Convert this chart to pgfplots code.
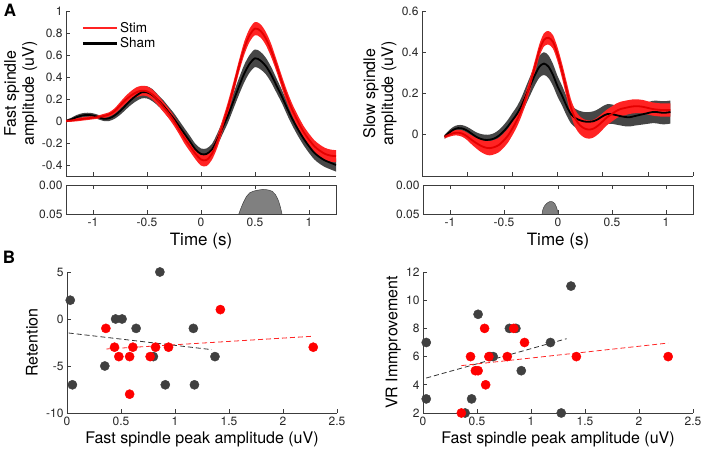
\documentclass[border=0pt]{standalone}
\usepackage{fontspec}
\setmainfont{TeX Gyre Heros}
\usepackage{pgfplots}
\pgfplotsset{compat=1.18}
\usepackage{pgfplotstable}
\usepgfplotslibrary{fillbetween}

\definecolor{stimband}{RGB}{255,35,35}
\definecolor{stimline}{RGB}{228,0,0}
\definecolor{shamband}{RGB}{70,70,70}
\definecolor{axc}{RGB}{60,60,60}
\definecolor{txc}{RGB}{38,38,38}
\definecolor{dotgray}{RGB}{64,64,64}
\definecolor{pgray}{RGB}{128,128,128}

\pgfplotstableread{
t m h
-1.25 0.00 0.01
-1.2 0.015 0.015
-1.15 0.035 0.02
-1.1 0.05 0.02
-1.05 0.055 0.02
-1.0 0.05 0.02
-0.95 0.035 0.02
-0.9 0.02 0.02
-0.85 0.025 0.025
-0.8 0.05 0.03
-0.75 0.09 0.035
-0.7 0.14 0.04
-0.65 0.19 0.045
-0.6 0.23 0.05
-0.55 0.26 0.055
-0.5 0.26 0.055
-0.45 0.235 0.055
-0.4 0.19 0.05
-0.35 0.14 0.05
-0.3 0.08 0.05
-0.25 0.02 0.05
-0.2 -0.05 0.05
-0.15 -0.12 0.05
-0.1 -0.19 0.05
-0.05 -0.26 0.05
0 -0.30 0.05
0.05 -0.30 0.05
0.1 -0.26 0.05
0.15 -0.17 0.055
0.2 -0.06 0.06
0.25 0.05 0.065
0.3 0.18 0.07
0.35 0.31 0.075
0.4 0.43 0.08
0.45 0.52 0.08
0.5 0.57 0.08
0.55 0.55 0.08
0.6 0.50 0.075
0.65 0.42 0.07
0.7 0.32 0.065
0.75 0.22 0.06
0.8 0.11 0.06
0.85 0.01 0.06
0.9 -0.08 0.06
0.95 -0.16 0.06
1.0 -0.23 0.06
1.05 -0.29 0.06
1.1 -0.33 0.06
1.15 -0.36 0.06
1.2 -0.38 0.06
1.25 -0.40 0.06
}\fastsham

\pgfplotstableread{
t m h
-1.25 0.00 0.01
-1.2 0.005 0.012
-1.15 0.012 0.015
-1.1 0.018 0.015
-1.05 0.024 0.015
-1.0 0.03 0.015
-0.95 0.036 0.015
-0.9 0.045 0.02
-0.85 0.06 0.02
-0.8 0.09 0.025
-0.75 0.14 0.03
-0.7 0.19 0.035
-0.65 0.23 0.04
-0.6 0.26 0.045
-0.55 0.275 0.045
-0.5 0.27 0.045
-0.45 0.24 0.045
-0.4 0.19 0.045
-0.35 0.13 0.045
-0.3 0.07 0.045
-0.25 0.0 0.045
-0.2 -0.08 0.045
-0.15 -0.16 0.05
-0.1 -0.23 0.05
-0.05 -0.30 0.05
0 -0.35 0.055
0.05 -0.355 0.055
0.1 -0.30 0.055
0.15 -0.19 0.055
0.2 -0.04 0.055
0.25 0.12 0.055
0.3 0.30 0.055
0.35 0.49 0.055
0.4 0.66 0.06
0.45 0.78 0.06
0.5 0.84 0.06
0.55 0.82 0.06
0.6 0.75 0.06
0.65 0.64 0.06
0.7 0.50 0.055
0.75 0.35 0.055
0.8 0.21 0.055
0.85 0.09 0.055
0.9 -0.01 0.055
0.95 -0.10 0.055
1.0 -0.17 0.055
1.05 -0.23 0.055
1.1 -0.27 0.055
1.15 -0.30 0.055
1.2 -0.315 0.055
1.25 -0.32 0.055
}\faststim

\pgfplotstableread{
t m h
-1.25 -0.01 0.01
-1.2 0.01 0.012
-1.15 0.025 0.014
-1.1 0.032 0.015
-1.05 0.03 0.016
-1.0 0.02 0.018
-0.95 0.005 0.02
-0.9 -0.01 0.022
-0.85 -0.02 0.024
-0.8 -0.025 0.025
-0.75 -0.024 0.025
-0.7 -0.018 0.026
-0.65 -0.005 0.028
-0.6 0.015 0.03
-0.55 0.04 0.032
-0.5 0.07 0.035
-0.45 0.10 0.037
-0.4 0.14 0.04
-0.35 0.19 0.043
-0.3 0.24 0.046
-0.25 0.29 0.05
-0.2 0.33 0.053
-0.15 0.345 0.055
-0.1 0.33 0.055
-0.05 0.29 0.053
0.0 0.235 0.05
0.05 0.19 0.048
0.1 0.14 0.046
0.15 0.10 0.045
0.2 0.08 0.045
0.25 0.07 0.045
0.3 0.064 0.046
0.35 0.063 0.047
0.4 0.066 0.048
0.45 0.076 0.048
0.5 0.09 0.048
0.55 0.10 0.048
0.6 0.10 0.047
0.65 0.095 0.046
0.7 0.09 0.045
0.75 0.086 0.045
0.8 0.085 0.045
0.85 0.09 0.046
0.9 0.095 0.048
0.95 0.10 0.05
1.0 0.105 0.052
1.05 0.11 0.054
1.1 0.11 0.055
1.15 0.107 0.056
1.2 0.107 0.056
1.25 0.11 0.056
}\slowsham

\pgfplotstableread{
t m h
-1.25 -0.01 0.008
-1.2 0.0 0.01
-1.15 0.008 0.012
-1.1 0.01 0.014
-1.05 0.005 0.016
-1.0 -0.008 0.018
-0.95 -0.025 0.022
-0.9 -0.04 0.026
-0.85 -0.053 0.03
-0.8 -0.062 0.033
-0.75 -0.065 0.035
-0.7 -0.06 0.035
-0.65 -0.05 0.035
-0.6 -0.03 0.035
-0.55 -0.005 0.034
-0.5 0.03 0.033
-0.45 0.07 0.032
-0.4 0.12 0.031
-0.35 0.18 0.03
-0.3 0.25 0.03
-0.25 0.33 0.03
-0.2 0.41 0.03
-0.15 0.46 0.032
-0.1 0.47 0.033
-0.05 0.45 0.033
0.0 0.39 0.034
0.05 0.31 0.036
0.1 0.22 0.038
0.15 0.13 0.04
0.2 0.075 0.042
0.25 0.045 0.043
0.3 0.03 0.044
0.35 0.025 0.044
0.4 0.03 0.043
0.45 0.045 0.042
0.5 0.065 0.04
0.55 0.085 0.038
0.6 0.10 0.037
0.65 0.115 0.036
0.7 0.125 0.035
0.75 0.13 0.035
0.8 0.135 0.034
0.85 0.138 0.034
0.9 0.138 0.033
0.95 0.135 0.033
1.0 0.13 0.032
1.05 0.125 0.032
1.1 0.122 0.032
1.15 0.12 0.032
1.2 0.12 0.032
1.25 0.12 0.032
}\slowstim

\pgfplotstableread{
t p
0.35 0.05
0.37 0.04
0.39 0.031
0.42 0.02
0.45 0.0137
0.48 0.011
0.51 0.0095
0.54 0.0085
0.57 0.0077
0.60 0.008
0.63 0.0089
0.66 0.011
0.69 0.0167
0.71 0.024
0.72 0.0286
0.735 0.038
0.75 0.05
}\pfast

\pgfplotstableread{
t p
-0.148 0.05
-0.14 0.042
-0.125 0.036
-0.1 0.031
-0.075 0.0285
-0.05 0.029
-0.03 0.032
-0.015 0.038
-0.005 0.044
0.005 0.05
}\pslow

\pgfplotsset{
  myax/.style={
    scale only axis,
    /pgf/number format/assume math mode=true,
    tick align=inside,
    major tick length=4bp,
    axis line style={axc, line width=0.6bp},
    every tick/.style={axc, line width=0.6bp},
    ticklabel style={font=\fontsize{12bp}{14bp}\selectfont, text=txc},
    label style={font=\fontsize{16bp}{18bp}\selectfont, text=black},
    scaled ticks=false,
    anchor=south west,
  },
  boxoff/.style={axis lines*=left},
}

\begin{document}
\begin{tikzpicture}[x=1bp,y=1bp]

% ---------------- Top-left: fast spindle
\begin{axis}[myax, boxoff, at={(66bp,277bp)}, width=270bp, height=165bp,
  xmin=-1.25, xmax=1.25, ymin=-0.5, ymax=1,
  xtick={-1,-0.5,0,0.5,1}, xticklabels={},
  ytick={-0.4,-0.2,0,0.2,0.4,0.6,0.8,1},
  yticklabels={-0.4,-0.2,0,0.2,0.4,0.6,0.8,1},
  ylabel={Fast spindle\\amplitude (uV)},
  ylabel style={align=center, at={(axis description cs:-0.167,0.5)}, anchor=center},
  legend style={at={(axis description cs:0.046,0.958)}, anchor=north west, draw=none, fill=none,
    font=\fontsize{13.5bp}{16bp}\selectfont, row sep=0bp},
  legend cell align=left,
  legend image code/.code={\draw[#1] (0bp,0bp) -- (34bp,0bp);},
]
\addlegendimage{stimband, line width=2.6bp}
\addlegendentry{Stim}
\addlegendimage{black, line width=2.6bp}
\addlegendentry{Sham}
\addplot[draw=none, name path=fshu, smooth, forget plot] table[x=t, y expr=\thisrow{m}+\thisrow{h}] {\fastsham};
\addplot[draw=none, name path=fshl, smooth, forget plot] table[x=t, y expr=\thisrow{m}-\thisrow{h}] {\fastsham};
\addplot[shamband, forget plot] fill between[of=fshu and fshl];
\addplot[black, line width=1.8bp, smooth, forget plot] table[x=t, y=m] {\fastsham};
\addplot[draw=none, name path=fstu, smooth, forget plot] table[x=t, y expr=\thisrow{m}+\thisrow{h}] {\faststim};
\addplot[draw=none, name path=fstl, smooth, forget plot] table[x=t, y expr=\thisrow{m}-\thisrow{h}] {\faststim};
\addplot[stimband, forget plot] fill between[of=fstu and fstl];
\addplot[stimline, line width=1.8bp, smooth, forget plot] table[x=t, y=m] {\faststim};
\end{axis}

% strip left
\begin{axis}[myax, at={(66bp,239bp)}, width=270bp, height=29bp,
  xmin=-1.25, xmax=1.25, ymin=0, ymax=0.05, y dir=reverse,
  ytick={0,0.05}, yticklabels={0.00,0.05},
  xtick={-1,-0.5,0,0.5,1}, xticklabels={-1,-0.5,0,0.5,1},
  xlabel={Time (s)},
  xlabel style={font=\fontsize{17bp}{19bp}\selectfont},
]
\addplot[fill=pgray, draw=black!75, line width=0.5bp] table[x=t, y=p] {\pfast};
\end{axis}

% ---------------- Top-right: slow spindle
\begin{axis}[myax, boxoff, at={(422bp,277bp)}, width=271bp, height=165bp,
  xmin=-1.5, xmax=1.5, ymin=-0.2, ymax=0.6,
  xtick={-1.5,-1,-0.5,0,0.5,1,1.5}, xticklabels={},
  ytick={0,0.2,0.4,0.6}, yticklabels={0,0.2,0.4,0.6},
  ylabel={Slow spindle\\amplitude (uV)},
  ylabel style={align=center, at={(axis description cs:-0.155,0.5)}, anchor=center},
]
\addplot[draw=none, name path=sshu, smooth] table[x=t, y expr=\thisrow{m}+\thisrow{h}] {\slowsham};
\addplot[draw=none, name path=sshl, smooth] table[x=t, y expr=\thisrow{m}-\thisrow{h}] {\slowsham};
\addplot[shamband] fill between[of=sshu and sshl];
\addplot[black, line width=1.8bp, smooth] table[x=t, y=m] {\slowsham};
\addplot[draw=none, name path=sstu, smooth] table[x=t, y expr=\thisrow{m}+\thisrow{h}] {\slowstim};
\addplot[draw=none, name path=sstl, smooth] table[x=t, y expr=\thisrow{m}-\thisrow{h}] {\slowstim};
\addplot[stimband] fill between[of=sstu and sstl];
\addplot[stimline, line width=1.8bp, smooth] table[x=t, y=m] {\slowstim};
\end{axis}

% strip right
\begin{axis}[myax, at={(423bp,239bp)}, width=270bp, height=29bp,
  xmin=-1.25, xmax=1.25, ymin=0, ymax=0.05, y dir=reverse,
  ytick={0,0.05}, yticklabels={0.00,0.05},
  xtick={-1,-0.5,0,0.5,1}, xticklabels={-1,-0.5,0,0.5,1},
  xlabel={Time (s)},
  xlabel style={font=\fontsize{17bp}{19bp}\selectfont},
]
\addplot[fill=pgray, draw=black!75, line width=0.5bp] table[x=t, y=p] {\pslow};
\end{axis}

% ---------------- Bottom-left: retention
\begin{axis}[myax, boxoff, at={(67bp,40bp)}, width=270bp, height=141bp,
  xmin=0, xmax=2.5, ymin=-10, ymax=5,
  xtick={0,0.5,1,1.5,2,2.5}, xticklabels={0,0.5,1,1.5,2,2.5},
  ytick={-10,-5,0,5}, yticklabels={-10,-5,0,5},
  xlabel={Fast spindle peak amplitude (uV)},
  ylabel={Retention},
  ylabel style={at={(axis description cs:-0.13,0.5)}, anchor=center},
  clip=false,
]
\addplot[only marks, mark=*, mark size=4.6bp, mark options={fill=dotgray, draw=dotgray}] table {
x y
0.03 2
0.05 -7
0.35 -5
0.45 0
0.51 0
0.64 -1
0.80 -4
0.86 5
0.91 -7
1.17 -1
1.18 -7
1.37 -4
};
\addplot[only marks, mark=*, mark size=4.6bp, mark options={fill=red, draw=red}] table {
x y
0.36 -1
0.44 -3
0.48 -4
0.58 -4
0.58 -8
0.61 -3
0.77 -4
0.82 -3
0.94 -3
1.42 1
2.28 -3
};
\addplot[black!80, dash pattern=on 5bp off 3bp, line width=0.8bp] coordinates {(0.015,-1.49) (1.34,-3.26)};
\addplot[red!85, dash pattern=on 5bp off 3bp, line width=0.8bp] coordinates {(0.364,-3.19) (2.27,-1.84)};
\end{axis}

% ---------------- Bottom-right: VR improvement
\begin{axis}[myax, boxoff, at={(423bp,40bp)}, width=270bp, height=141bp,
  xmin=0, xmax=2.5, ymin=2, ymax=12,
  xtick={0,0.5,1,1.5,2,2.5}, xticklabels={0,0.5,1,1.5,2,2.5},
  ytick={2,4,6,8,10,12}, yticklabels={2,4,6,8,10,12},
  xlabel={Fast spindle peak amplitude (uV)},
  ylabel={VR Immprovement},
  ylabel style={at={(axis description cs:-0.11,0.5)}, anchor=center},
  clip=false,
]
\addplot[only marks, mark=*, mark size=4.6bp, mark options={fill=dotgray, draw=dotgray}] table {
x y
0.03 7
0.03 3
0.39 2
0.45 3
0.51 9
0.62 6
0.65 6
0.80 8
0.86 8
0.91 5
1.18 7
1.28 2
1.37 11
};
\addplot[only marks, mark=*, mark size=4.6bp, mark options={fill=red, draw=red}] table {
x y
0.355 2
0.44 6
0.485 5
0.51 5
0.57 8
0.58 4
0.61 6
0.78 6
0.84 8
0.94 7
1.42 6
2.27 6
};
\addplot[black!80, dash pattern=on 5bp off 3bp, line width=0.8bp] coordinates {(0.03,4.48) (1.33,7.27)};
\addplot[red!85, dash pattern=on 5bp off 3bp, line width=0.8bp] coordinates {(0.355,5.36) (2.27,6.96)};
\end{axis}

\node[font=\bfseries\fontsize{17bp}{17bp}\selectfont, anchor=center] at (10,443) {A};
\node[font=\bfseries\fontsize{17bp}{17bp}\selectfont, anchor=center] at (9,196) {B};
\pgfresetboundingbox
\useasboundingbox (0,0) rectangle (702,453);
\end{tikzpicture}
\end{document}
